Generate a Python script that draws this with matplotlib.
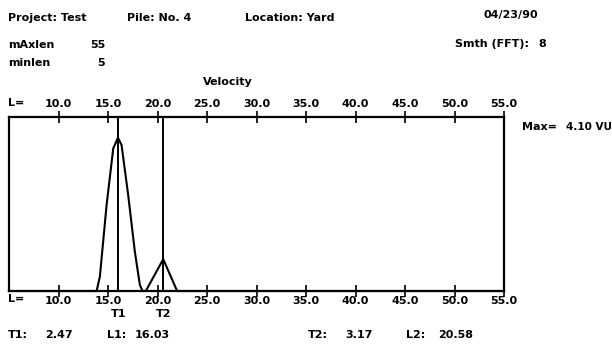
import matplotlib
matplotlib.use("Agg")
import matplotlib.pyplot as plt
from matplotlib.ticker import FixedLocator, FormatStrFormatter

plt.rcParams['font.family'] = ['Liberation Sans Narrow', 'DejaVu Sans']
plt.rcParams['font.weight'] = 'bold'

# Velocity trace: length (L) vs amplitude (VU)
trace_len = [5.0, 13.85, 14.18, 14.86, 15.53, 16.0, 16.37, 17.04, 17.71, 18.22, 18.49,
             18.82, 20.58, 21.98, 55.0]
trace_amp = [0.0, 0.0, 0.34, 2.03, 3.36, 3.61, 3.44, 2.26, 0.93, 0.14, 0.0,
             0.0, 0.75, 0.0, 0.0]

tick_vals = [10.0, 15.0, 20.0, 25.0, 30.0, 35.0, 40.0, 45.0, 50.0, 55.0]
len_min, len_max = 5, 55
amp_max = 4.10

t1, l1 = 2.47, 16.03
t2, l2 = 3.17, 20.58

W, H = 612, 346
fig = plt.figure(figsize=(W / 100, H / 100), dpi=100)
fig.patch.set_facecolor('white')

# plot box in pixel coordinates
x0, x1, y_top, y_bot = 9, 504, 117, 291
ax = fig.add_axes([x0 / W, 1 - y_bot / H, (x1 - x0) / W, (y_bot - y_top) / H])
ax.set_xlim(len_min, len_max)
ax.set_ylim(0, amp_max)
for s in ax.spines.values():
    s.set_linewidth(1.6)
    s.set_color('black')

ax.plot(trace_len, trace_amp, color='black', lw=1.5, clip_on=False)
ax.axvline(l1, color='black', lw=1.4)
ax.axvline(l2, color='black', lw=1.4)

ax.set_yticks([])
fmt = FormatStrFormatter('%.1f')

# bottom length scale
ax.xaxis.set_major_locator(FixedLocator(tick_vals))
ax.xaxis.set_major_formatter(fmt)
ax.tick_params(axis='x', direction='inout', length=9, width=1.2,
               top=False, bottom=True, labelsize=8, pad=-1)

# top length scale
top = ax.secondary_xaxis('top')
top.xaxis.set_major_locator(FixedLocator(tick_vals))
top.xaxis.set_major_formatter(fmt)
top.tick_params(axis='x', direction='inout', length=9, width=1.2, labelsize=8, pad=1)
top.spines['top'].set_visible(False)

for lab in ax.get_xticklabels() + top.get_xticklabels():
    lab.set_fontweight('bold')


def put(x, y, s, ha='left', size=8):
    fig.text(x / W, 1 - y / H, s, ha=ha, va='center', fontsize=size, fontweight='bold')


def len_to_px(v):
    return x0 + (v - len_min) / (len_max - len_min) * (x1 - x0)


put(8, 18, "Project: Test")
put(127, 18, "Pile: No. 4")
put(245, 18, "Location: Yard")
put(483, 15, "04/23/90")
put(8, 45, "mAxlen")
put(105, 45, "55", ha='right')
put(105, 63, "5", ha='right')
put(8, 63, "minlen")
put(455, 44, "Smth (FFT):")
put(538, 44, "8")
put(203, 82, "Velocity")
put(8, 103, "L=")
put(8, 299, "L=")
put(522, 127, "Max=")
put(566, 127, "%.2f VU" % amp_max, size=7.5)

# marker names under the axis
put(len_to_px(l1), 314, "T1", ha='center')
put(len_to_px(l2), 314, "T2", ha='center')

put(8, 335, "T1:")
put(45, 335, "%.2f" % t1)
put(107, 335, "L1:")
put(135, 335, "%.2f" % l1)
put(308, 335, "T2:")
put(345, 335, "%.2f" % t2)
put(406, 335, "L2:")
put(438, 335, "%.2f" % l2)

fig.savefig("out.png", dpi=100, facecolor='white')
